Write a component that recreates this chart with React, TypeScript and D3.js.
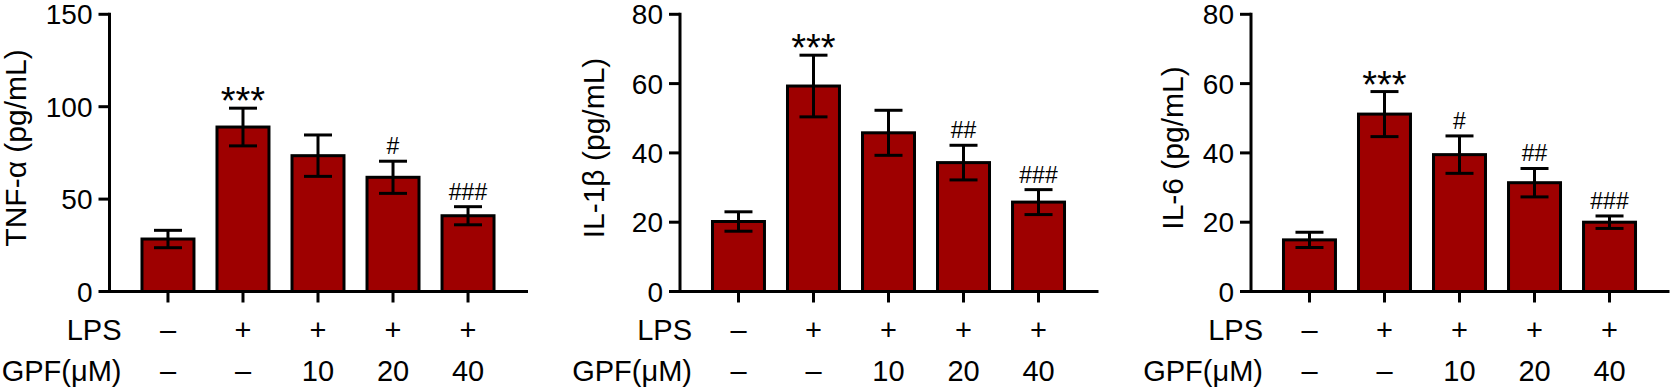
import React from 'react';
import * as d3 from 'd3';

// groups along the x axis
const groups = ['ctrl', 'lps', 'gpf10', 'gpf20', 'gpf40'];
const lpsLabels = ['–', '+', '+', '+', '+'];
const gpfLabels = ['–', '–', '10', '20', '40'];

// TNF-α
const tnfMean = [28.4, 89.0, 73.5, 61.8, 41.0];
const tnfErr = [4.7, 10.2, 11.2, 8.7, 4.9];
const tnfMarks = ['', '***', '', '#', '###'];
const tnfTicks = [0, 50, 100, 150];

// IL-1β
const il1bMean = [20.2, 59.3, 45.8, 37.2, 25.8];
const il1bErr = [2.8, 8.9, 6.5, 5.0, 3.6];
const il1bMarks = ['', '***', '', '##', '###'];
const il1bTicks = [0, 20, 40, 60, 80];

// IL-6
const il6Mean = [14.9, 51.2, 39.5, 31.4, 20.0];
const il6Err = [2.2, 6.5, 5.4, 4.1, 1.8];
const il6Marks = ['', '***', '#', '##', '###'];
const il6Ticks = [0, 20, 40, 60, 80];

const panels = [
  { title: 'TNF-α (pg/mL)', mean: tnfMean, err: tnfErr, marks: tnfMarks, ticks: tnfTicks },
  { title: 'IL-1β (pg/mL)', mean: il1bMean, err: il1bErr, marks: il1bMarks, ticks: il1bTicks },
  { title: 'IL-6 (pg/mL)', mean: il6Mean, err: il6Err, marks: il6Marks, ticks: il6Ticks },
];

const FONT = '"Liberation Sans", Arial, Helvetica, sans-serif';
const BAR = '#9e0000';
const W = 1670;
const H = 389;

// layout
const panelX = [109.5, 680, 1251];
const titleX = [26, 604, 1183];
const plotTop = 14.3;
const plotBottom = 291.5;
const plotWidth = 417;
const lpsY = 340;
const gpfY = 381;

function Panel({ idx }: { idx: number }) {
  const p = panels[idx];
  const x0 = panelX[idx];
  const yMax = p.ticks[p.ticks.length - 1];

  const x = d3
    .scaleBand<string>()
    .domain(groups)
    .range([x0, x0 + plotWidth])
    .paddingInner(0.307)
    .paddingOuter(0.433);
  const y = d3.scaleLinear().domain([0, yMax]).range([plotBottom, plotTop]);
  const bw = x.bandwidth();
  const cx = (g: string) => (x(g) || 0) + bw / 2;

  return (
    <g>
      {/* bars */}
      {groups.map((g, i) => (
        <rect
          key={g}
          x={x(g)}
          y={y(p.mean[i])}
          width={bw}
          height={plotBottom - y(p.mean[i])}
          fill={BAR}
          stroke="#000"
          strokeWidth={3}
        />
      ))}
      {/* error bars */}
      {groups.map((g, i) => {
        const hi = y(p.mean[i] + p.err[i]);
        const lo = y(p.mean[i] - p.err[i]);
        const c = cx(g);
        return (
          <g key={g} stroke="#000" strokeWidth={3}>
            <line x1={c} x2={c} y1={hi} y2={lo} />
            <line x1={c - 14} x2={c + 14} y1={hi} y2={hi} />
            <line x1={c - 14} x2={c + 14} y1={lo} y2={lo} />
          </g>
        );
      })}
      {/* significance marks */}
      {groups.map((g, i) => {
        const m = p.marks[i];
        if (!m) return null;
        const top = y(p.mean[i] + p.err[i]);
        const stars = m.startsWith('*');
        return (
          <text
            key={g}
            x={cx(g)}
            y={stars ? top + 6 : top - 7}
            textAnchor="middle"
            fontFamily={FONT}
            fontSize={stars ? 38 : 23}
            fill="#000"
          >
            {m}
          </text>
        );
      })}
      {/* y axis */}
      <line x1={x0} x2={x0} y1={plotTop} y2={plotBottom} stroke="#000" strokeWidth={3} strokeLinecap="square" />
      {p.ticks.map((t) => (
        <g key={t}>
          <line x1={x0 - 11} x2={x0} y1={y(t)} y2={y(t)} stroke="#000" strokeWidth={3} />
          <text
            x={x0 - 17}
            y={y(t)}
            dy="0.36em"
            textAnchor="end"
            fontFamily={FONT}
            fontSize={28}
            fill="#000"
          >
            {t}
          </text>
        </g>
      ))}
      {/* x axis */}
      <line x1={x0} x2={x0 + plotWidth} y1={plotBottom} y2={plotBottom} stroke="#000" strokeWidth={3} strokeLinecap="square" />
      {groups.map((g) => (
        <line key={g} x1={cx(g)} x2={cx(g)} y1={plotBottom} y2={plotBottom + 11} stroke="#000" strokeWidth={3} />
      ))}
      {/* y title */}
      <text
        transform={`translate(${titleX[idx]},148) rotate(-90)`}
        textAnchor="middle"
        fontFamily={FONT}
        fontSize={30}
        fill="#000"
      >
        {p.title}
      </text>
      {/* treatment rows */}
      <text x={x0 + 12} y={lpsY} textAnchor="end" fontFamily={FONT} fontSize={29}>LPS</text>
      <text x={x0 + 12} y={gpfY} textAnchor="end" fontFamily={FONT} fontSize={29}>GPF(μM)</text>
      {groups.map((g, i) => (
        <g key={g} fontFamily={FONT} fontSize={29} textAnchor="middle">
          <text x={cx(g)} y={lpsY}>{lpsLabels[i]}</text>
          <text x={cx(g)} y={gpfY}>{gpfLabels[i]}</text>
        </g>
      ))}
    </g>
  );
}

export default function App() {
  return (
    <svg
      width={W}
      height={H}
      viewBox={`0 0 ${W} ${H}`}
      style={{ position: 'absolute', left: 0, top: 0, background: '#fff' }}
    >
      {panels.map((_, i) => (
        <Panel key={i} idx={i} />
      ))}
    </svg>
  );
}
